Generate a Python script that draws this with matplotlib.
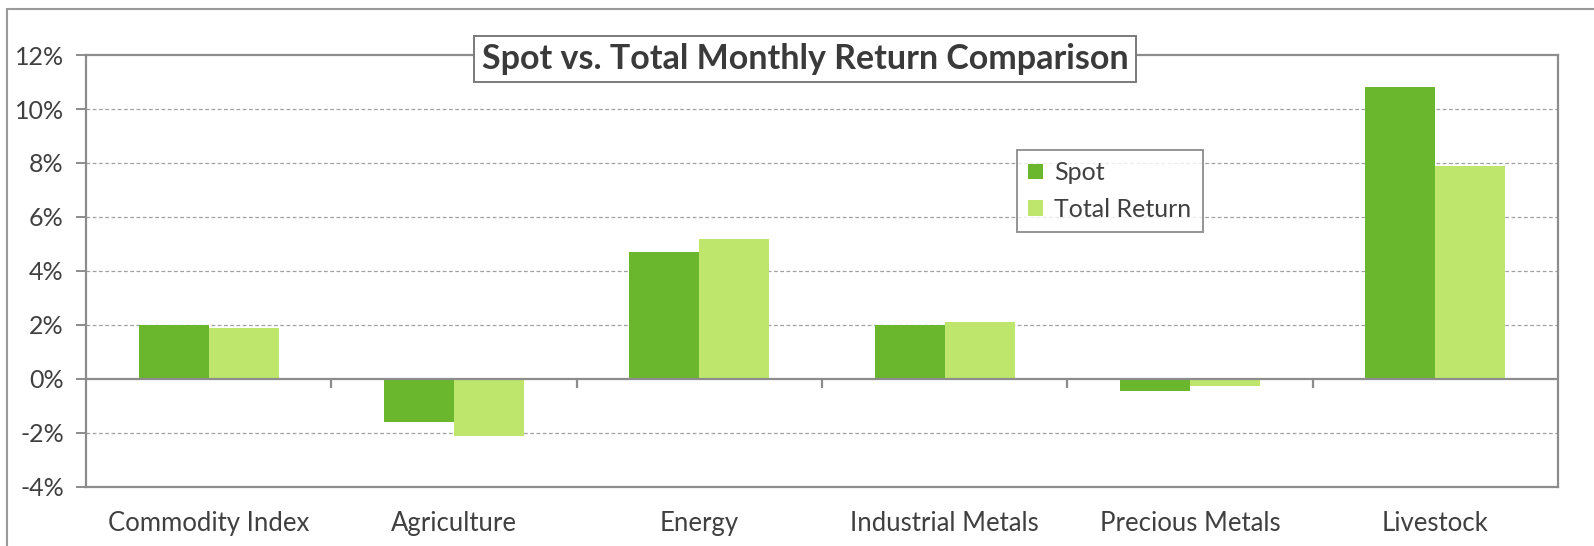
import numpy as np
import matplotlib
matplotlib.use("Agg")
import matplotlib.pyplot as plt
from matplotlib.patches import Rectangle
from matplotlib.ticker import FuncFormatter

# monthly returns (%) by sector
categories = ["Commodity Index", "Agriculture", "Energy",
              "Industrial Metals", "Precious Metals", "Livestock"]
spot = [2.0, -1.6, 4.7, 2.0, -0.45, 10.8]
total_return = [1.9, -2.1, 5.2, 2.1, -0.25, 7.9]
y_ticks = [-4, -2, 0, 2, 4, 6, 8, 10, 12]

SPOT_COLOR = "#6ab62c"
TR_COLOR = "#bee56c"
TEXT = "#404040"
LINE = "#8c8c8c"

plt.rcParams["font.family"] = ["Lato", "DejaVu Sans"]

W, H = 1594, 546
fig = plt.figure(figsize=(W / 100, H / 100), dpi=100)
fig.patch.set_facecolor("white")

# outer chart frame (runs off the right and bottom of the canvas)
fig.patches.append(Rectangle((7 / W, -0.05), 1.2, 1 - 9 / H + 0.05,
                             transform=fig.transFigure, fill=False,
                             edgecolor="#9a9a9a", linewidth=1.5))

ax = fig.add_axes([86 / W, 59 / H, (1558 - 86) / W, (489 - 57) / H])

x = np.arange(len(categories))
width = 0.285
ax.bar(x - width / 2, spot, width, color=SPOT_COLOR, label="Spot", zorder=3)
ax.bar(x + width / 2, total_return, width, color=TR_COLOR,
       label="Total Return", zorder=3)

ax.set_xlim(-0.5, len(categories) - 0.5)
ax.set_ylim(y_ticks[0], y_ticks[-1])
ax.set_yticks(y_ticks)
ax.yaxis.set_major_formatter(FuncFormatter(lambda v, _: f"{v:.0f}%"))

# dashed grid, solid zero line with category dividers
for v in y_ticks[1:-1]:
    if v != 0:
        ax.axhline(v, color="#a0a0a0", linestyle=(0, (3, 2)), linewidth=0.9,
                   zorder=1)
ax.axhline(0, color=LINE, linewidth=1.6, zorder=4)
ax.vlines(x[:-1] + 0.5, 0, -0.33, color=LINE, linewidth=1.6, zorder=4)

ax.set_xticks(x)
ax.set_xticklabels(categories)
ax.tick_params(axis="x", length=0, pad=17, labelsize=18.5, labelcolor=TEXT)
ax.tick_params(axis="y", length=7, width=1.4, color=LINE, pad=9,
               labelsize=18, labelcolor=TEXT)

for s in ax.spines.values():
    s.set_color(LINE)
    s.set_linewidth(1.6)

fig.text(805 / W, 1 - 59 / H, "Spot vs. Total Monthly Return Comparison",
         ha="center", va="center", fontsize=24.5, fontweight="bold",
         color="#3a3a3a",
         bbox=dict(boxstyle="square,pad=0.22", facecolor="white",
                   edgecolor="#7a7a7a", linewidth=1.4))

leg = ax.legend(loc="upper left", bbox_to_anchor=(1017 / W, 1 - 150 / H),
                bbox_transform=fig.transFigure, fontsize=18,
                frameon=True, fancybox=False, handlelength=0.6,
                handleheight=0.6, handletextpad=0.45, labelspacing=0.55,
                borderpad=0.45, borderaxespad=0)
leg.get_frame().set_edgecolor("#7a7a7a")
leg.get_frame().set_linewidth(1.4)
for t in leg.get_texts():
    t.set_color(TEXT)

fig.savefig("out.png", dpi=100)
